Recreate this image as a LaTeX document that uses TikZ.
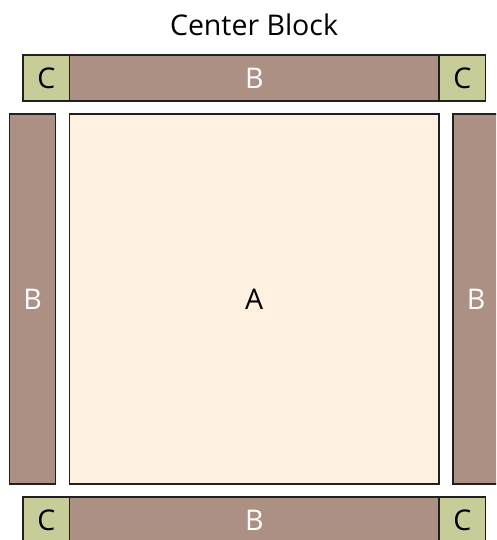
\documentclass[tikz,border=0pt]{standalone}
\usepackage{fontspec}
\setmainfont{Open Sans}
\definecolor{cgreen}{HTML}{C8CC98}
\definecolor{bbrown}{HTML}{AC9084}
\definecolor{acream}{HTML}{FFF0E0}
\definecolor{edge}{HTML}{202020}
\begin{document}
\begin{tikzpicture}[x=1pt,y=-1pt,
  blk/.style={draw=edge,line width=1.2pt},
  lbl/.style={font=\fontsize{28.5}{32}\selectfont,inner sep=0pt}]
\useasboundingbox (0,0) rectangle (496,540);
\clip (0,0) rectangle (496,540);
% top row
\draw[blk,fill=cgreen] (23,55) rectangle (69.5,101);
\draw[blk,fill=bbrown] (69.5,55) rectangle (439,101);
\draw[blk,fill=cgreen] (439,55) rectangle (485.5,101);
% bottom row
\draw[blk,fill=cgreen] (23,497) rectangle (69.5,543);
\draw[blk,fill=bbrown] (69.5,497) rectangle (439,543);
\draw[blk,fill=cgreen] (439,497) rectangle (485.5,543);
% sides
\draw[blk,fill=bbrown] (9.5,114) rectangle (55.5,484);
\draw[blk,fill=bbrown] (453,114) rectangle (499,484);
% center
\draw[blk,fill=acream] (69.5,114) rectangle (439,484);
% labels
\node[lbl] (title) at (254,25) {Center Block};
\node[lbl] (c1) at (46.25,78) {C};
\node[lbl,text=white] (b1) at (254.25,78) {B};
\node[lbl] (c2) at (462.25,78) {C};
\node[lbl] (c3) at (46.25,520) {C};
\node[lbl,text=white] (b2) at (254.25,520) {B};
\node[lbl] (c4) at (462.25,520) {C};
\node[lbl,text=white] (b3) at (32.5,299) {B};
\node[lbl,text=white] (b4) at (476,299) {B};
\node[lbl] (a) at (254.25,299) {A};
\end{tikzpicture}
\end{document}
